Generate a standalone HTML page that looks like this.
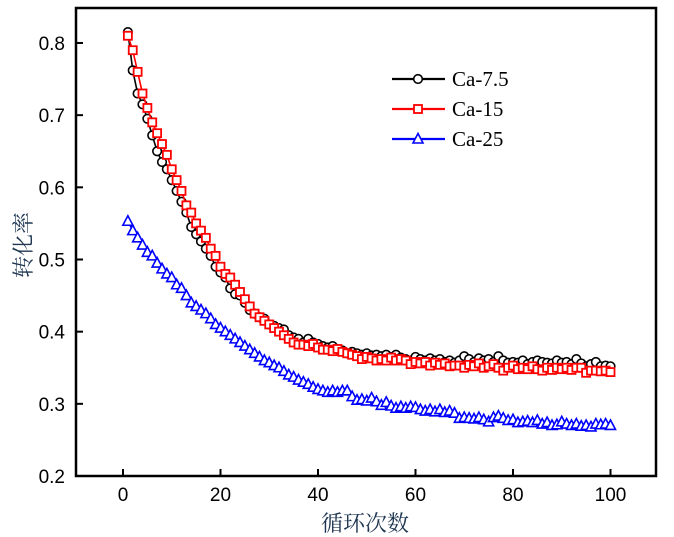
<!DOCTYPE html>
<html><head><meta charset="utf-8"><style>
body{margin:0;background:#fff}
svg{display:block;font-family:"Liberation Sans","Noto Sans CJK SC",sans-serif}
</style></head><body>
<svg id="c" width="674" height="537"></svg>
<script>
const xs=Array.from({length:100},(_,i)=>i+1);
const ca75=[0.815,0.762,0.73,0.715,0.695,0.672,0.65,0.635,0.625,0.61,0.595,0.58,0.565,0.545,0.535,0.525,0.515,0.505,0.49,0.482,0.475,0.46,0.452,0.45,0.44,0.43,0.425,0.42,0.418,0.41,0.408,0.405,0.403,0.395,0.392,0.39,0.385,0.39,0.385,0.383,0.38,0.378,0.38,0.376,0.374,0.37,0.372,0.37,0.368,0.37,0.367,0.368,0.366,0.368,0.365,0.368,0.364,0.362,0.36,0.365,0.362,0.36,0.363,0.36,0.362,0.358,0.36,0.357,0.36,0.366,0.362,0.358,0.363,0.36,0.362,0.358,0.366,0.36,0.357,0.358,0.357,0.36,0.355,0.358,0.36,0.358,0.357,0.356,0.36,0.357,0.358,0.355,0.362,0.356,0.352,0.355,0.358,0.352,0.353,0.352];
const ca15=[0.81,0.79,0.76,0.73,0.71,0.69,0.675,0.66,0.645,0.625,0.61,0.595,0.575,0.565,0.55,0.54,0.53,0.515,0.505,0.49,0.48,0.475,0.465,0.455,0.445,0.435,0.425,0.42,0.415,0.41,0.405,0.4,0.395,0.39,0.385,0.382,0.382,0.38,0.383,0.378,0.375,0.375,0.373,0.376,0.372,0.37,0.368,0.366,0.362,0.365,0.363,0.36,0.362,0.36,0.364,0.36,0.362,0.36,0.355,0.358,0.356,0.358,0.353,0.357,0.354,0.356,0.352,0.353,0.353,0.35,0.354,0.352,0.356,0.35,0.352,0.355,0.35,0.346,0.35,0.353,0.348,0.35,0.348,0.352,0.348,0.346,0.35,0.347,0.35,0.348,0.35,0.347,0.35,0.35,0.343,0.346,0.346,0.345,0.346,0.344];
const ca25=[0.553,0.54,0.53,0.52,0.51,0.505,0.495,0.487,0.48,0.475,0.465,0.46,0.45,0.44,0.435,0.43,0.425,0.418,0.41,0.405,0.4,0.395,0.39,0.385,0.38,0.375,0.37,0.365,0.36,0.357,0.353,0.35,0.345,0.34,0.337,0.333,0.33,0.327,0.323,0.32,0.318,0.316,0.318,0.316,0.318,0.318,0.31,0.305,0.306,0.304,0.308,0.303,0.298,0.302,0.297,0.294,0.296,0.294,0.296,0.295,0.292,0.29,0.292,0.289,0.292,0.288,0.29,0.287,0.28,0.281,0.28,0.279,0.281,0.278,0.275,0.281,0.283,0.28,0.277,0.278,0.274,0.275,0.276,0.274,0.277,0.272,0.274,0.27,0.271,0.275,0.272,0.27,0.272,0.269,0.27,0.268,0.272,0.271,0.272,0.27];
const xTicks=[0,20,40,60,80,100];
const yTicks=[0.2,0.3,0.4,0.5,0.6,0.7,0.8];
const names=["Ca-7.5","Ca-15","Ca-25"];

const L=76,R=656,T=8,B=476;
const X=v=>123+(v)*4.875;
const Y=v=>476-(v-0.2)*721.7;
const svg=document.getElementById('c');
const NS='http://www.w3.org/2000/svg';
function mk(t,a,p){const e=document.createElementNS(NS,t);for(const k in a)e.setAttribute(k,a[k]);(p||svg).appendChild(e);return e;}

const frame=mk('rect',{x:L,y:T,width:R-L,height:B-T,fill:'none',stroke:'#000','stroke-width':2.5});



xTicks.forEach(v=>{
  const t=mk('line',{x1:X(v),x2:X(v),y1:B,y2:B-7,stroke:'#000','stroke-width':2});
  
  
  const l=mk('text',{x:X(v),y:B+25,'text-anchor':'middle','font-size':19});
  l.textContent=v;
  
  
});
yTicks.forEach(v=>{
  const t=mk('line',{x1:L,x2:L+7,y1:Y(v),y2:Y(v),stroke:'#000','stroke-width':2});
  
  
  const l=mk('text',{x:L-11,y:Y(v)+7,'text-anchor':'end','font-size':19});
  l.textContent=v.toFixed(1);
  
  
});

const xt=mk('text',{x:365,y:531,'text-anchor':'middle','font-size':22,fill:'#1d3550','font-family':'"Liberation Serif","Noto Serif CJK SC",serif'});
xt.textContent='循环次数';


const yt=mk('text',{x:0,y:0,'text-anchor':'middle','font-size':22,fill:'#1d3550','font-family':'"Liberation Serif","Noto Serif CJK SC",serif',transform:'translate(31,245) rotate(-90)'});
yt.textContent='转化率';



function marker(kind,cx,cy,col,g){
  if(kind==='c')return mk('circle',{cx,cy,r:4.3,fill:'#fff',stroke:col,'stroke-width':1.6},g);
  if(kind==='s')return mk('rect',{x:cx-4,y:cy-4,width:8,height:8,fill:'#fff',stroke:col,'stroke-width':1.8},g);
  return mk('polygon',{points:`${cx},${cy-5.5} ${cx-5},${cy+4} ${cx+5},${cy+4}`,fill:'#fff',stroke:col,'stroke-width':1.6},g);
}
const series=[[ca75,'#000','c','series-ca-7-5'],[ca15,'#f00','s','series-ca-15'],[ca25,'#00f','t','series-ca-25']];
series.forEach(([d,col,k,nm])=>{
  const g=mk('g',{});
  
  
  const p=mk('polyline',{points:d.map((v,i)=>X(xs[i])+','+Y(v)).join(' '),fill:'none',stroke:col,'stroke-width':1.6},g);
  
  
  d.forEach((v,i)=>{
    const m=marker(k,X(xs[i]),Y(v),col,g);
    
    
  });
});

const lg=mk('g',{});


series.forEach(([d,col,k],i)=>{
  const y=79+i*30;
  const e=mk('g',{},lg);
  
  
  mk('line',{x1:392,x2:445,y1:y,y2:y,stroke:col,'stroke-width':2.2},e);
  marker(k,418,y,col,e);
  const t=mk('text',{x:452,y:y+7,'font-size':21,'font-family':'"Liberation Serif",serif'},e);
  t.textContent=names[i];
  
  
});
</script>
</body></html>
